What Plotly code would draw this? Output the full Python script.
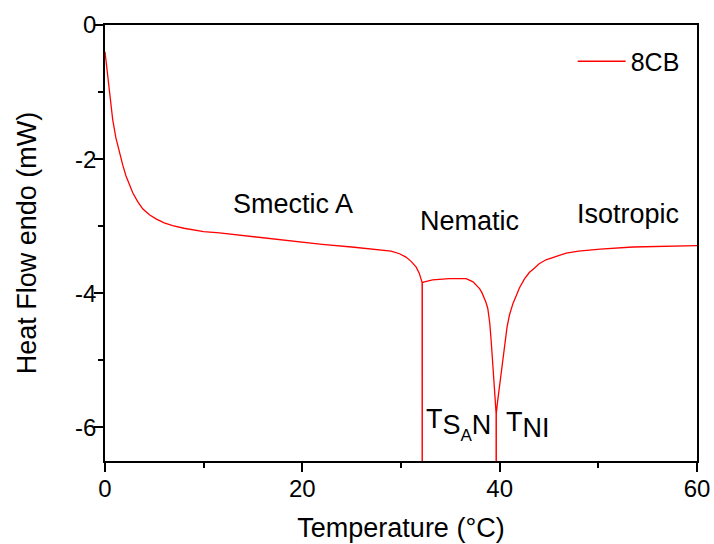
import plotly.graph_objects as go

# Temperature (°C)
temperature = [0, 0.1, 0.2, 0.4, 0.6, 0.78, 1.1, 1.45, 1.8, 2.13, 2.5, 2.81, 3.3, 3.82, 4.5,
               5.17, 6.0, 6.86, 8.0, 8.89, 10, 11.6, 14, 17, 19.7, 22, 25, 28.15, 29.0,
               29.85, 30.5, 31.0, 31.54, 31.85, 32.05, 32.14, 32.15, 32.16, 32.38, 33.2,
               34.9, 36.0, 36.6, 37.3, 37.6, 37.96, 38.2, 38.4, 38.6, 38.8, 39.0, 39.15,
               39.38, 39.55, 39.64, 39.65, 39.66, 39.8, 40.0, 40.25, 40.5, 40.75, 41.0,
               41.35, 41.7, 42.0, 42.5, 43.0, 43.4, 44.0, 44.7, 45.1, 46.0, 46.75, 48.0,
               50.2, 53.5, 56.5, 60]
# Heat flow endo (mW)
heat_flow = [-0.40, -0.53, -0.65, -0.92, -1.17, -1.41, -1.68, -1.90, -2.09, -2.25, -2.39,
             -2.50, -2.63, -2.74, -2.83, -2.89, -2.95, -2.99, -3.03, -3.05, -3.08, -3.10,
             -3.14, -3.19, -3.24, -3.27, -3.31, -3.35, -3.37, -3.41, -3.46, -3.52, -3.61,
             -3.70, -3.82, -3.84, -12.0, -3.84, -3.83, -3.80, -3.78, -3.78, -3.78, -3.83,
             -3.87, -3.93, -3.99, -4.05, -4.13, -4.23, -4.45, -4.73, -5.22, -5.60, -5.79,
             -12.0, -5.79, -5.60, -5.37, -5.05, -4.73, -4.50, -4.32, -4.15, -4.03, -3.92,
             -3.79, -3.69, -3.64, -3.56, -3.50, -3.48, -3.43, -3.40, -3.37, -3.34, -3.31,
             -3.30, -3.29]

y_tickvals = [0, -2, -4, -6]
y_ticktext = ["0", "-2", "-4", "-6"]
x_tickvals = [0, 20, 40, 60]
x_ticktext = ["0", "20", "40", "60"]

phase_labels = ["Smectic A", "Nematic", "Isotropic"]
phase_x = [19.1, 36.95, 53.0]
phase_y = [-2.67, -2.92, -2.82]

FONT = "Liberation Sans, Arial, sans-serif"

fig = go.Figure()
fig.add_trace(go.Scatter(x=temperature, y=heat_flow, mode="lines", name="8CB",
                         line=dict(color="#FF0000", width=1.3)))

for t, x, y in zip(phase_labels, phase_x, phase_y):
    fig.add_annotation(x=x, y=y, text=t, showarrow=False,
                       font=dict(family=FONT, size=27, color="black"))

fig.add_annotation(x=35.8, y=-5.96, showarrow=False,
                   text=("T<sub><span style='font-size:27px'>S</span>"
                         "<span style='font-size:17px;baseline-shift:-7px'>A</span>"
                         "<span style='font-size:27px'>N</span></sub>"),
                   font=dict(family=FONT, size=27, color="black"))
fig.add_annotation(x=42.9, y=-5.96, showarrow=False,
                   text="T<sub><span style='font-size:27px'>NI</span></sub>",
                   font=dict(family=FONT, size=27, color="black"))

axis_common = dict(showline=True, linecolor="black", linewidth=1.5, mirror=True,
                   ticks="outside", ticklen=9, tickwidth=1.5, tickcolor="black",
                   showgrid=False, zeroline=False, automargin=False,
                   tickfont=dict(family=FONT, size=24, color="black"))

fig.update_xaxes(range=[0, 60], tickvals=x_tickvals, ticktext=x_ticktext,
                 ticklabelstandoff=-4,
                 minor=dict(dtick=10, ticklen=5, tickwidth=1.5, tickcolor="black", ticks="outside"),
                 title=dict(text="Temperature (°C)", font=dict(family=FONT, size=27, color="black"),
                            standoff=18),
                 **axis_common)
fig.update_yaxes(range=[-6.5, 0], tickvals=y_tickvals, ticktext=y_ticktext,
                 ticklabelstandoff=-7,
                 minor=dict(tickvals=[-1, -3, -5], ticklen=5, tickwidth=1.5, tickcolor="black", ticks="outside"),
                 title=dict(text="Heat Flow endo (mW)", font=dict(family=FONT, size=27, color="black"),
                            standoff=31),
                 **axis_common)

fig.update_layout(width=714, height=544, margin=dict(l=105, r=17, t=25, b=83),
                  paper_bgcolor="white", plot_bgcolor="white",
                  showlegend=True,
                  legend=dict(x=0.79, y=0.969, xanchor="left", yanchor="top",
                              itemwidth=48,
                              bgcolor="rgba(0,0,0,0)",
                              font=dict(family=FONT, size=25, color="black")))

# remove the default 8px page margin so the 714x544 figure fills the window exactly
fig.write_html("out.html",
               config={"displayModeBar": False},
               post_script="document.body.style.margin='0';document.body.style.overflow='hidden';")
